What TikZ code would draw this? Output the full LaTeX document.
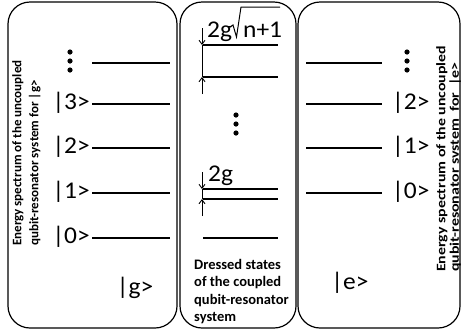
\documentclass[tikz,border=0pt]{standalone}
\usepackage{fontspec}
\setmainfont{Carlito}
\usetikzlibrary{arrows.meta}
\begin{document}
\begin{tikzpicture}[x=1pt,y=-1pt,
  panel/.style={draw=black,line width=1.2pt,rounded corners=22pt},
  level/.style={line width=2.6pt},
  thinlevel/.style={line width=2pt},
  ket/.style={font=\fontsize{24}{26}\selectfont,inner sep=0pt,xscale=1.06},
  gap/.style={line width=0.9pt},
  gaparrow/.style={line width=0.9pt,-{Straight Barb[length=4pt,width=6pt]}},
  radical/.style={line width=1pt,line join=miter},
  dot/.style={fill=black,circle,inner sep=0pt,minimum size=5.2pt},
  vlabel/.style={font=\bfseries\fontsize{13}{17}\selectfont,align=left,rotate=90,inner sep=0pt,anchor=north west},
  mlabel/.style={font=\bfseries\fontsize{14.5}{17.5}\selectfont,align=left,inner sep=0pt,anchor=north west}]
\useasboundingbox (0,0) rectangle (462,333);
% panels
\draw[panel] (8,2) rectangle (177,328);
\draw[panel] (180,2) rectangle (296,328);
\draw[panel] (298,2) rectangle (460,328);

% left panel levels
\foreach \n/\y in {d/63,3/104,2/148,1/193,0/238}{
  \coordinate (gl\n) at (92,\y);
  \coordinate (gr\n) at (170,\y);
  \draw[level] (gl\n) -- (gr\n);
}
\node[ket,anchor=east] (k3) at (90,103) {|3>};
\node[ket,anchor=east] (k2) at (90,147) {|2>};
\node[ket,anchor=east] (k1) at (90,192) {|1>};
\node[ket,anchor=east] (k0) at (90,237) {|0>};
\node[dot] (gd1) at (70,52) {};
\node[dot] (gd2) at (70,61) {};
\node[dot] (gd3) at (70,70) {};
\node[ket] (kg) at (135,288) {|g>};
\node[vlabel] (lg) at (12,246) {Energy spectrum of the uncoupled\\qubit-resonator system for |g>};

% middle panel
\coordinate (a1) at (203,45);
\coordinate (a2) at (278,45);
\coordinate (b1) at (203,77);
\coordinate (b2) at (278,77);
\draw[thinlevel] (a1) -- (a2);
\draw[thinlevel] (b1) -- (b2);
\coordinate (ta) at (202,28);
\coordinate (tb) at (202,94);
\coordinate (ua) at (202,45);
\coordinate (ub) at (202,77);
\draw[gaparrow] (ta) -- (ua);
\draw[gaparrow] (tb) -- (ub);
\draw[gap] (ua) -- (ub);
\node[ket,anchor=base west] (sqg) at (207,37) {2g};
\node[ket,anchor=base west] (sqn) at (243,37) {n+1};
\coordinate (r1) at (230,27);
\coordinate (r2) at (233,25);
\coordinate (r3) at (236.5,37);
\coordinate (r4) at (241,7);
\coordinate (r5) at (280,7);
\draw[radical] (r1) -- (r2) -- (r3) -- (r4) -- (r5);
\node[dot] (md1) at (236,115) {};
\node[dot] (md2) at (236,124) {};
\node[dot] (md3) at (236,133) {};
\coordinate (c1) at (203,189);
\coordinate (c2) at (278,189);
\coordinate (d1) at (203,199);
\coordinate (d2) at (278,199);
\draw[thinlevel] (c1) -- (c2);
\draw[thinlevel] (d1) -- (d2);
\coordinate (va) at (202,172);
\coordinate (vb) at (202,216);
\coordinate (wa) at (202,189);
\coordinate (wb) at (202,199);
\draw[gaparrow] (va) -- (wa);
\draw[gaparrow] (vb) -- (wb);
\draw[gap] (wa) -- (wb);
\node[ket,anchor=base west] (tg) at (208,181) {2g};
\coordinate (e1) at (203,238);
\coordinate (e2) at (278,238);
\draw[level] (e1) -- (e2);
\node[mlabel] (ml) at (194,259) {Dressed states\\of the coupled\\qubit-resonator\\system};

% right panel levels
\foreach \n/\y in {d/63,2/104,1/148,0/193}{
  \coordinate (el\n) at (306,\y);
  \coordinate (er\n) at (382,\y);
  \draw[level] (el\n) -- (er\n);
}
\node[ket,anchor=west] (r2) at (392,103) {|2>};
\node[ket,anchor=west] (r1) at (392,147) {|1>};
\node[ket,anchor=west] (r0) at (392,192) {|0>};
\node[dot] (ed1) at (407,52) {};
\node[dot] (ed2) at (407,61) {};
\node[dot] (ed3) at (407,70) {};
\node[ket] (ke) at (350,283) {|e>};
\node[vlabel,font=\bfseries\fontsize{13}{13.5}\selectfont,xscale=1.22] (le) at (436,272) {Energy spectrum of the uncoupled\\qubit-resonator svstem\ \ for\ \ |e>};
\end{tikzpicture}
\end{document}
